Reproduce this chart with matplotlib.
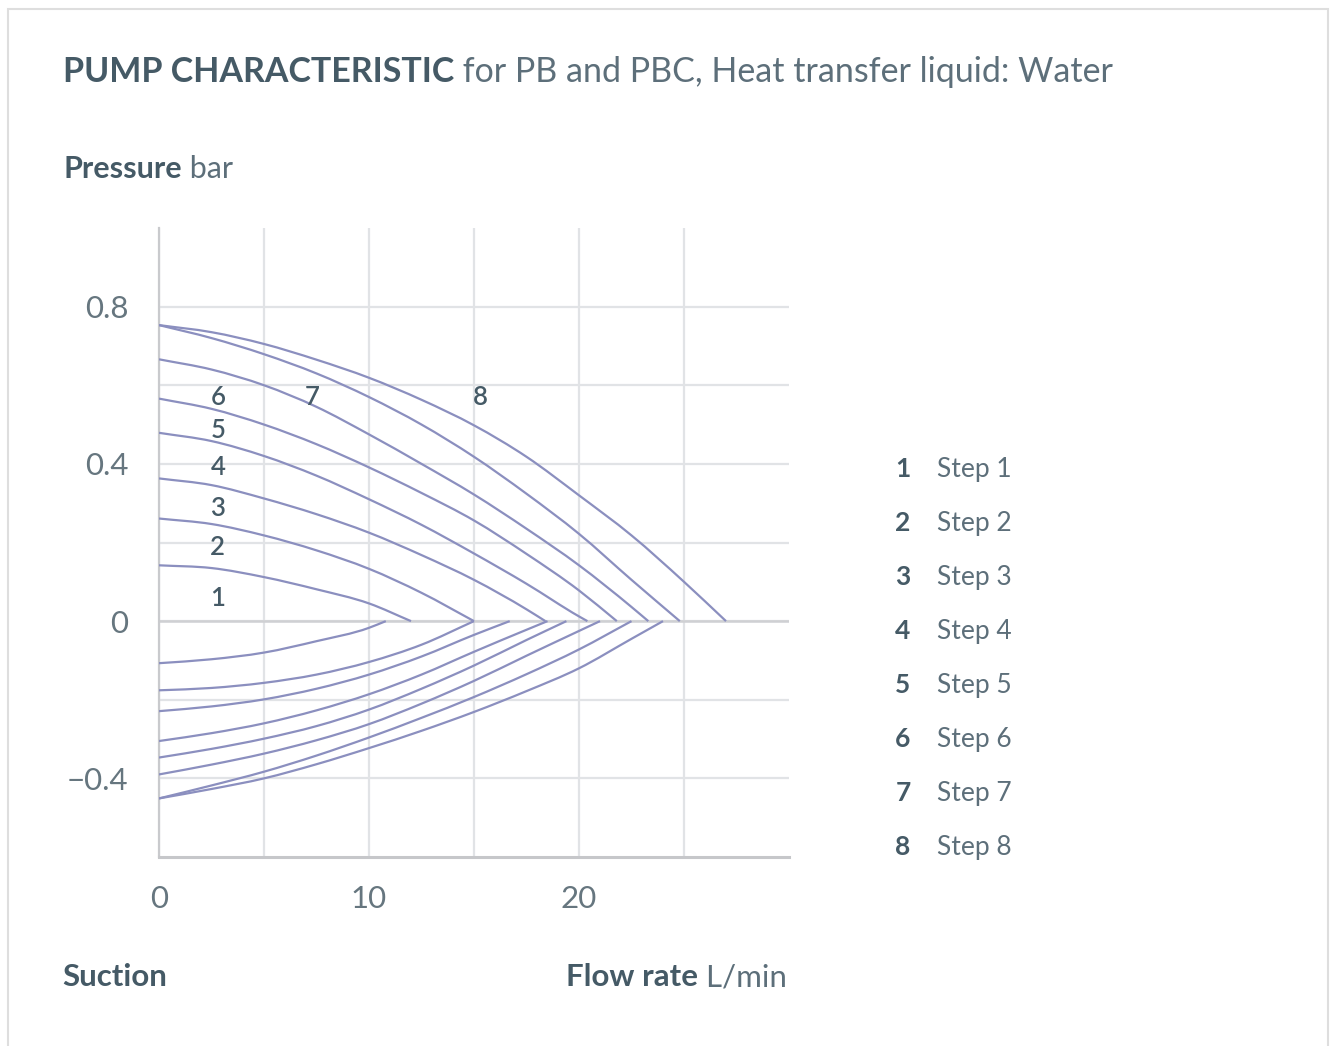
import numpy as np
import matplotlib.pyplot as plt
from matplotlib.patches import Rectangle, PathPatch
from matplotlib.path import Path

plt.rcParams['font.family'] = ['Lato', 'DejaVu Sans']

# pressure side (bar) per step
x_p = {
    1: [0, 2.5, 5, 7.5, 10, 12],
    2: [0, 2.5, 5, 7.5, 10, 12.5, 15],
    3: [0, 2.5, 5, 7.5, 10, 12.5, 15, 17.5, 18.4],
    4: [0, 2.5, 5, 7.5, 10, 12.5, 15, 17.5, 20, 20.4],
    5: [0, 2.5, 5, 7.5, 10, 12.5, 15, 17.5, 20, 21.8],
    6: [0, 2.5, 5, 7.5, 10, 12.5, 15, 17.5, 20, 22.5, 23.3],
    7: [0, 2.5, 5, 7.5, 10, 12.5, 15, 17.5, 20, 22.5, 24.8],
    8: [0, 2.5, 5, 7.5, 10, 12.5, 15, 17.5, 20, 22.5, 25, 27],
}
p_p = {
    1: [0.142, 0.135, 0.112, 0.081, 0.045, 0.0],
    2: [0.261, 0.247, 0.218, 0.180, 0.133, 0.072, 0.0],
    3: [0.363, 0.346, 0.312, 0.272, 0.225, 0.168, 0.105, 0.030, 0.0],
    4: [0.479, 0.458, 0.420, 0.370, 0.310, 0.245, 0.172, 0.095, 0.012, 0.0],
    5: [0.566, 0.540, 0.500, 0.450, 0.391, 0.326, 0.256, 0.171, 0.078, 0.0],
    6: [0.666, 0.640, 0.600, 0.545, 0.475, 0.400, 0.322, 0.235, 0.142, 0.036, 0.0],
    7: [0.753, 0.720, 0.679, 0.630, 0.570, 0.500, 0.418, 0.324, 0.222, 0.105, 0.0],
    8: [0.753, 0.735, 0.705, 0.665, 0.619, 0.563, 0.498, 0.418, 0.320, 0.218, 0.100, 0.0],
}

# suction side (bar) per step
x_s = {
    1: [0, 2.5, 5, 7.5, 10, 10.8],
    2: [0, 2.5, 5, 7.5, 10, 12.5, 15],
    3: [0, 2.5, 5, 7.5, 10, 12.5, 15, 16.7],
    4: [0, 2.5, 5, 7.5, 10, 12.5, 15, 17.5, 18.5],
    5: [0, 2.5, 5, 7.5, 10, 12.5, 15, 17.5, 19.4],
    6: [0, 2.5, 5, 7.5, 10, 12.5, 15, 17.5, 20, 21],
    7: [0, 2.5, 5, 7.5, 10, 12.5, 15, 17.5, 20, 22.5],
    8: [0, 2.5, 5, 7.5, 10, 12.5, 15, 17.5, 20, 22.5, 24],
}
p_s = {
    1: [-0.107, -0.097, -0.080, -0.051, -0.017, 0.0],
    2: [-0.176, -0.170, -0.157, -0.136, -0.104, -0.060, 0.0],
    3: [-0.229, -0.217, -0.199, -0.172, -0.136, -0.090, -0.035, 0.0],
    4: [-0.305, -0.285, -0.260, -0.227, -0.186, -0.136, -0.078, -0.022, 0.0],
    5: [-0.347, -0.325, -0.299, -0.267, -0.225, -0.172, -0.113, -0.048, 0.0],
    6: [-0.390, -0.365, -0.337, -0.303, -0.262, -0.210, -0.152, -0.088, -0.025, 0.0],
    7: [-0.451, -0.418, -0.383, -0.342, -0.296, -0.246, -0.193, -0.135, -0.072, 0.0],
    8: [-0.451, -0.427, -0.400, -0.364, -0.323, -0.279, -0.231, -0.178, -0.120, -0.045, 0.0],
}

steps = [1, 2, 3, 4, 5, 6, 7, 8]
step_names = ['Step 1', 'Step 2', 'Step 3', 'Step 4', 'Step 5', 'Step 6', 'Step 7', 'Step 8']

# curve number labels inside the plot
lab_x = [2.8, 2.8, 2.8, 2.8, 2.8, 2.8, 7.3, 15.3]
lab_y = [0.058, 0.188, 0.287, 0.391, 0.485, 0.569, 0.569, 0.569]

xticks = [0, 10, 20]
yticks = [-0.4, 0, 0.4, 0.8]
ytick_labels = ['\u22120.4', '0', '0.4', '0.8']

line_col = '#8b8fbf'
dark = '#455a66'
mid = '#5d6f7a'
grid_col = '#e1e3e6'


def smooth_path(xs, ys):
    # cubic bezier segments through the read points (x is increasing)
    xs = np.asarray(xs, float)
    ys = np.asarray(ys, float)
    h = np.diff(xs)
    d = np.diff(ys) / h
    m = np.empty_like(xs)
    m[0], m[-1] = d[0], d[-1]
    m[1:-1] = (d[:-1] * h[1:] + d[1:] * h[:-1]) / (h[:-1] + h[1:])
    verts = [(xs[0], ys[0])]
    codes = [Path.MOVETO]
    for i in range(len(xs) - 1):
        k = h[i] / 3
        verts += [(xs[i] + k, ys[i] + m[i] * k),
                  (xs[i + 1] - k, ys[i + 1] - m[i + 1] * k),
                  (xs[i + 1], ys[i + 1])]
        codes += [Path.CURVE4] * 3
    return Path(verts, codes)


fig = plt.figure(figsize=(13.35, 10.46), dpi=100)
fig.patches.append(Rectangle((8 / 1335, -0.05), 1320 / 1335, 1.05 - 9 / 1046,
                             transform=fig.transFigure, fill=False,
                             edgecolor='#dedede', linewidth=1.5))

ax = fig.add_axes([159 / 1335, 1 - 857 / 1046, 630 / 1335, 629 / 1046])
ax.set_xlim(0, 30)
ax.set_ylim(-0.6, 1.0)

ax.set_xticks(xticks)
ax.set_xticks([5, 15, 25], minor=True)
ax.set_yticks(yticks)
ax.set_yticks([-0.2, 0.2, 0.6], minor=True)
ax.set_yticklabels(ytick_labels)
ax.grid(which='both', color=grid_col, linewidth=1.6)
ax.axhline(0, color='#cfd0d3', linewidth=1.8, zorder=1)
ax.set_axisbelow(True)
ax.tick_params(which='both', length=0)
ax.tick_params(axis='x', pad=20, labelsize=22.5, labelcolor='#66767f')
ax.tick_params(axis='y', pad=22, labelsize=22.5, labelcolor='#66767f')

for s in ['top', 'right']:
    ax.spines[s].set_visible(False)
ax.spines['left'].set_color('#c9cacd')
ax.spines['left'].set_linewidth(1.6)
ax.spines['bottom'].set_color('#c6c7ca')
ax.spines['bottom'].set_linewidth(2.2)

for s in steps:
    ax.add_patch(PathPatch(smooth_path(x_p[s], p_p[s]), fill=False,
                           edgecolor=line_col, linewidth=1.6, zorder=3))
    ax.add_patch(PathPatch(smooth_path(x_s[s], p_s[s]), fill=False,
                           edgecolor=line_col, linewidth=1.6, zorder=3))

for s, lx, ly in zip(steps, lab_x, lab_y):
    ax.text(lx, ly, str(s), fontsize=18.5, color=dark, fontweight='semibold',
            ha='center', va='center', zorder=4)

# title
t1 = fig.text(63 / 1335, 1 - 82 / 1046, 'PUMP CHARACTERISTIC', fontsize=24.5,
              fontweight='bold', color=dark, ha='left', va='baseline')
fig.add_artist(plt.Annotation(' for PB and PBC, Heat transfer liquid: Water', xy=(1, 0),
                              xycoords=t1, fontsize=24.5, color=mid, ha='left', va='bottom'))

t2 = fig.text(63 / 1335, 1 - 178 / 1046, 'Pressure', fontsize=22,
              fontweight='bold', color=dark, ha='left', va='baseline')
fig.add_artist(plt.Annotation(' bar', xy=(1, 0), xycoords=t2, fontsize=22,
                              color=mid, ha='left', va='bottom'))

fig.text(62 / 1335, 1 - 986 / 1046, 'Suction', fontsize=22.5, fontweight='bold',
         color=dark, ha='left', va='baseline')
t3 = fig.text(787 / 1335, 1 - 986 / 1046, ' L/min', fontsize=22.5, color=mid,
              ha='right', va='baseline')
fig.add_artist(plt.Annotation('Flow rate', xy=(0, 0), xycoords=t3, fontsize=22.5,
                              fontweight='bold', color=dark, ha='right', va='bottom'))

# legend
for i, (s, name) in enumerate(zip(steps, step_names)):
    yy = 1 - (469 + 54 * i) / 1046
    fig.text(903 / 1335, yy, str(s), fontsize=19, fontweight='bold', color=dark,
             ha='center', va='center')
    fig.text(937 / 1335, yy, name, fontsize=19, color=mid, ha='left', va='center')

fig.savefig('out.png', dpi=100, facecolor='white')
